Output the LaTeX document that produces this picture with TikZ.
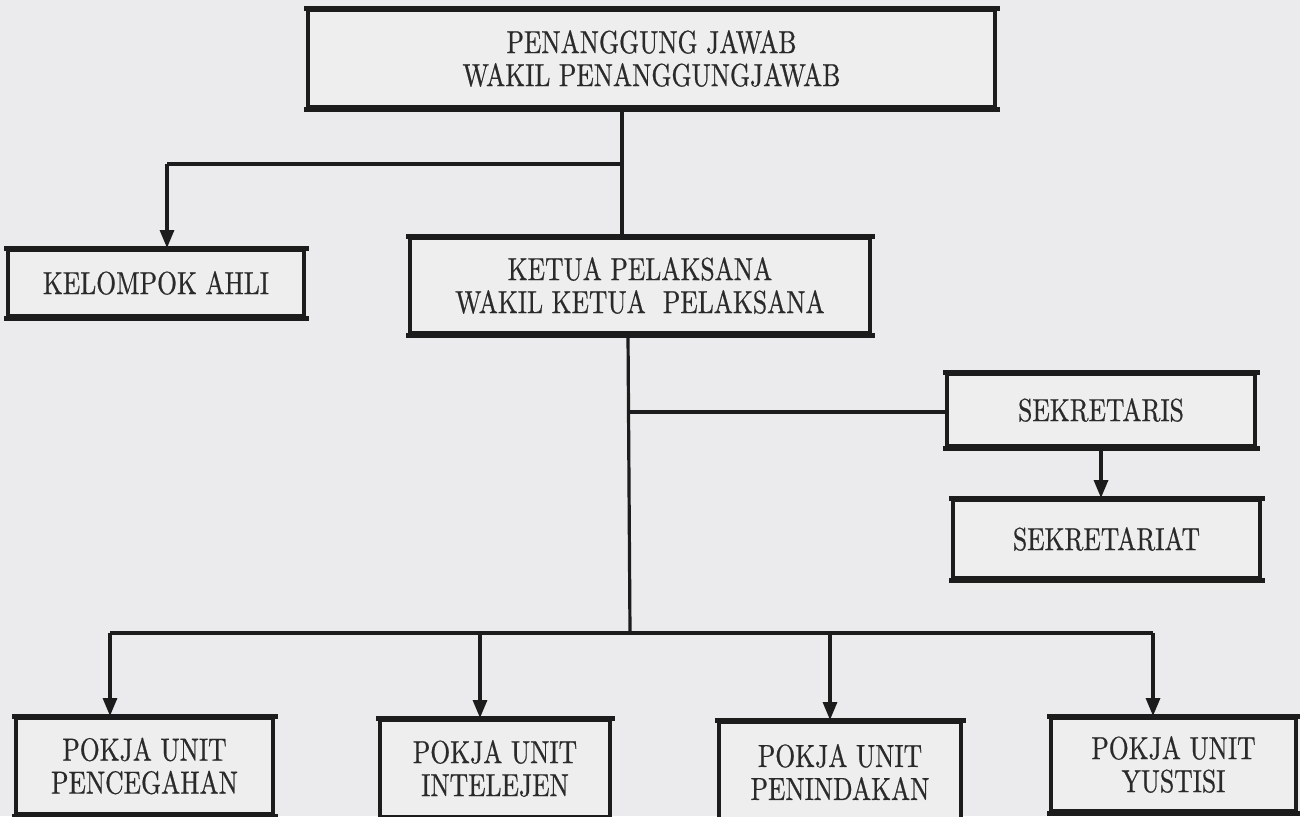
\documentclass[tikz,border=0pt]{standalone}
\usepackage{fontspec}
\setmainfont{lmroman10-regular.otf}[FakeStretch=0.8,FakeBold=0.6]
\usetikzlibrary{arrows.meta}
\definecolor{bg}{HTML}{EBEBED}
\definecolor{boxfill}{HTML}{EEEEEF}
\definecolor{ink}{HTML}{1C1C1C}
\definecolor{txt}{HTML}{2A2A2A}
\begin{document}
\begin{tikzpicture}[x=0.5pt,y=-0.5pt,
  orgbox/.style={draw=ink, fill=boxfill, line width=2pt, inner sep=0pt, align=center,
    text=txt, font=\fontsize{16}{16.5}\selectfont},
  edgeline/.style={draw=ink, line width=2.5pt, line cap=rect},
  conn/.style={draw=ink, line width=1.6pt},
  hconn/.style={draw=ink, line width=2.1pt},
  arr/.style={conn, -{Triangle[width=7pt,length=9pt]}}
]
\useasboundingbox[fill=bg] (0,0) rectangle (1300,816);
\begin{scope}
\clip (0,0) rectangle (1300,816);
% boxes
\node[orgbox, minimum width=343.5pt, minimum height=48.5pt] (pj) at (651.5,58.5)
  {PENANGGUNG JAWAB\\WAKIL PENANGGUNGJAWAB};
\node[orgbox, minimum width=148pt, minimum height=33pt] (ka) at (156,283)
  {KELOMPOK AHLI};
\node[orgbox, minimum width=230pt, minimum height=47.5pt] (kp) at (640,285.5)
  {KETUA PELAKSANA\\WAKIL KETUA\ \ PELAKSANA};
\node[orgbox, minimum width=154pt, minimum height=36pt] (sk) at (1101,410)
  {SEKRETARIS};
\node[orgbox, minimum width=153.5pt, minimum height=39pt] (skt) at (1106.5,539)
  {SEKRETARIAT};
\node[orgbox, minimum width=128.5pt, minimum height=48pt] (p1) at (144.5,766)
  {POKJA UNIT\\PENCEGAHAN};
\node[orgbox, minimum width=115pt, minimum height=48.5pt] (p2) at (495,768.5)
  {POKJA UNIT\\INTELEJEN};
\node[orgbox, minimum width=121pt, minimum height=50pt] (p3) at (840,772)
  {POKJA UNIT\\PENINDAKAN};
\node[orgbox, minimum width=122.5pt, minimum height=46.5pt] (p4) at (1173.5,764.5)
  {POKJA UNIT\\YUSTISI};
\foreach \n in {pj,ka,kp,sk,skt,p1,p2,p3,p4}
  \draw[edgeline] (\n.north west) -- (\n.north east) (\n.south west) -- (\n.south east);
% junction coordinates
\coordinate (j1) at (622,164);
\coordinate (a1) at (167,164);
\coordinate (j2) at (628,412);
\coordinate (j3) at (630,633);
\coordinate (b1) at (110,633);
\coordinate (b2) at (480,633);
\coordinate (b3) at (830,633);
\coordinate (b4) at (1153,633);
% connectors
\draw[conn] (pj.south -| j1) -- (kp.north -| j1);
\draw[hconn] (j1) -- (a1);
\draw[arr] (a1) -- (a1 |- ka.north);
\draw[conn] (kp.south -| j2) -- (j3);
\draw[hconn] (j2) -- (sk.west |- j2);
\draw[arr] (sk.south) -- (sk.south |- skt.north);
\draw[hconn] (b1) -- (b4);
\draw[arr] (b1) -- (b1 |- p1.north);
\draw[arr] (b2) -- (b2 |- p2.north);
\draw[arr] (b3) -- (b3 |- p3.north);
\draw[arr] (b4) -- (b4 |- p4.north);
\end{scope}
\end{tikzpicture}
\end{document}
